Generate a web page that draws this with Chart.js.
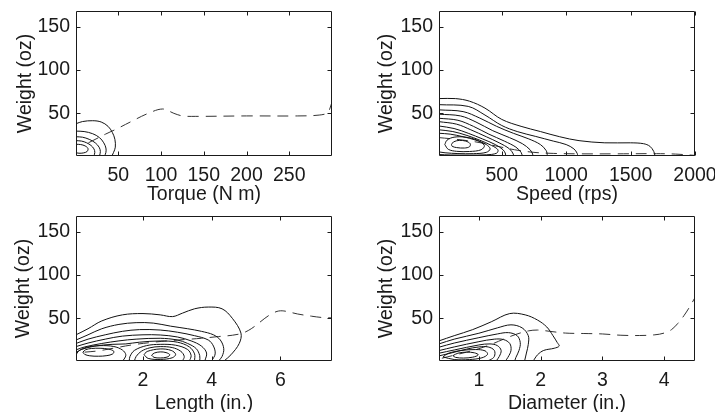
<!DOCTYPE html>
<html>
<head>
<meta charset="utf-8">
<script src="https://cdn.jsdelivr.net/npm/chart.js@4.4.1/dist/chart.umd.min.js"></script>
<style>
  html, body { margin: 0; padding: 0; background: #fff; }
  #fig { position: relative; width: 715px; height: 412px; overflow: hidden; }
  #fig canvas { position: absolute; }
</style>
</head>
<body>
<div id="fig">
  <canvas id="c1" width="357" height="206" style="left:0;top:0"></canvas>
  <canvas id="c2" width="358" height="206" style="left:357px;top:0"></canvas>
  <canvas id="c3" width="357" height="206" style="left:0;top:206px"></canvas>
  <canvas id="c4" width="358" height="206" style="left:357px;top:206px"></canvas>
</div>
<script>
// shared y axis
const weightTicks = [50, 100, 150];
const weightRange = [0.8, 168];

// torque panel
const torqueTicks = [50, 100, 150, 200, 250];
const torqueRange = [0.5, 300];
const torqueContours = [
  [[0.5,38],[8,40.5],[20,41.5],[30,40],[38,35],[43,28],[46,20],[46.5,11],[44.5,5],[42.5,0.8]],
  [[0.5,29.5],[10,29],[20,26.5],[28,22],[33,16],[35.5,10],[35.5,5],[34,0.8]],
  [[0.5,23],[8,22.5],[16,20],[23,16],[27.5,11],[29,6],[28,0.8]],
  [[0.5,18.5],[7,18],[13,16],[18,13],[21.5,9],[22.5,5],[21.5,0.8]],
  [[0.5,14.3],[6,14],[11,12.5],[14.5,9.5],[13.5,6],[9,4.3],[4,4],[0.5,4.5]]
];
const torqueMean = [[15,16],[25,21],[35,26],[48,32],[64,40],[85,50],[102,55],[115,50],[125,47],[140,46.5],[200,47],[260,47],[285,48],[295,51],[300,63]];

// speed panel
const speedTicks = [500, 1000, 1500, 2000];
const speedRange = [13, 2000];
const speedContours = [
  [[13,67],[140,67],[250,64],[370,56],[500,43],[650,35],[800,29],[950,23],[1100,18.5],[1300,16],[1500,16],[1600,15],[1650,12],[1680,6],[1690,0.8]],
  [[13,60],[240,58],[370,48],[500,36],[620,29],[760,23.5],[900,18],[1000,14],[1060,9],[1085,4],[1090,0.8]],
  [[13,54],[200,52],[330,44.5],[460,35],[590,27],[710,20.5],[800,14],[845,7],[855,0.8]],
  [[13,49],[180,47],[300,40],[430,30],[560,22],[660,15],[720,8],[740,3],[740,0.8]],
  [[13,44.3],[160,42],[280,35],[400,26],[520,18],[610,11],[650,5],[660,0.8]],
  [[13,40.4],[150,37.5],[260,31],[380,23],[480,16],[560,9],[590,3],[590,0.8]],
  [[13,35.4],[130,32.5],[240,27],[350,20.5],[450,14],[510,8],[530,3],[525,0.8]],
  [[13,31],[120,29],[230,24.5],[330,19],[420,13],[470,8],[460,4],[380,2.2],[250,1.8],[100,2],[13,2.5]],
  [[13,27],[100,26],[200,23],[300,19],[380,14],[410,9],[380,5],[280,3.5],[160,3.6],[60,4.5],[13,5.5]],
  [[58,14],[75,19],[130,22.5],[220,22.5],[310,19],[365,13],[340,8],[250,6],[150,6.2],[85,8.5],[58,14]],
  [[110,14],[125,17],[170,18.8],[220,18],[255,15],[250,11.5],[210,10],[150,10.5],[115,12],[110,14]]
];
const speedMean = [[13,22],[150,20],[300,17],[450,12.5],[600,8],[750,5],[900,3.8],[1100,3.3],[1400,3.3],[1700,3.5],[1850,3],[2000,1.5]];

// length panel
const lengthTicks = [2, 4, 6];
const lengthRange = [0.05, 7.5];
const lengthContours = [
  [[0.05,31],[0.4,38],[0.8,47],[1.4,54],[2,55.5],[2.5,54],[2.86,52],[3.15,56],[3.5,61],[3.9,63],[4.3,61],[4.6,50],[4.85,33],[4.8,21],[4.56,8],[4.36,0.9]],
  [[0.05,25],[0.4,31],[0.8,38],[1.3,43],[1.8,45],[2.3,44.5],[2.8,41],[3.3,38],[3.7,35],[4.05,31],[4.25,25],[4.35,15],[4.3,6],[4.2,0.9]],
  [[0.05,21],[0.4,26],[0.9,31],[1.4,35],[1.9,37],[2.5,36.5],[3,34],[3.5,30],[3.9,25],[4.05,18],[4.1,9],[4.0,0.9]],
  [[0.05,17.4],[0.4,21.5],[0.9,26],[1.4,29.5],[2,31],[2.5,30.8],[3,28.5],[3.4,24],[3.7,18],[3.85,10],[3.8,0.9]],
  [[0.05,13.6],[0.3,17],[0.8,21],[1.3,24],[1.8,26],[2.5,27],[3,25],[3.3,21],[3.55,15],[3.65,7],[3.65,0.9]],
  [[0.05,10.5],[0.2,14],[0.6,18],[1.1,20],[1.5,20.5],[1.9,22.5],[2.5,23.9],[3,22.5],[3.35,17],[3.5,9],[3.5,0.9]],
  [[0.05,7.5],[0.12,12],[0.35,16.5],[0.75,18.5],[1.15,17.5],[1.4,13.5],[1.5,8],[1.45,3],[1.4,0.9]],
  [[1.6,0.9],[1.62,6],[1.75,13],[2.1,18.5],[2.5,20],[2.95,19],[3.3,14],[3.4,7],[3.35,0.9]],
  [[0.25,11],[0.33,13.8],[0.5,15.2],[0.75,15.5],[1.0,14.5],[1.15,12],[1.12,9],[0.95,7],[0.7,6.3],[0.45,6.8],[0.3,8.5],[0.25,11]],
  [[1.75,0.9],[1.8,6],[1.95,12],[2.2,16],[2.5,17.4],[2.85,16.3],[3.1,12],[3.2,6],[3.15,0.9]],
  [[2.03,8],[2.12,11.8],[2.5,14.7],[2.82,13],[2.95,8.5],[2.85,4.5],[2.5,2.6],[2.15,3.8],[2.03,8]],
  [[2.25,7.5],[2.33,10],[2.5,11.3],[2.67,10.5],[2.78,8],[2.7,5.3],[2.5,4.3],[2.32,5],[2.25,7.5]]
];
const lengthMean = [[0.3,11],[0.7,12.5],[1.2,16],[1.7,19.5],[2.2,22],[2.7,24],[3.2,25.5],[3.7,27],[4.2,29],[4.6,30.5],[4.9,33],[5.15,38],[5.4,45.5],[5.65,53],[5.9,58],[6.1,58.5],[6.5,55],[6.9,52.5],[7.2,51],[7.5,50.5]];

// diameter panel
const diameterTicks = [1, 2, 3, 4];
const diameterRange = [0.354, 4.5];
const diameterContours = [
  [[0.354,24],[0.6,30],[0.9,37],[1.2,46],[1.5,55.5],[1.75,54],[1.95,48],[2.1,40],[2.2,30],[2.27,22],[2.3,18],[2.22,15.5],[2.05,13],[1.95,8],[1.9,3],[1.88,0.9]],
  [[0.354,20.5],[0.6,26],[1.0,32.8],[1.3,39],[1.52,42.5],[1.7,39],[1.8,30],[1.8,20],[1.77,10],[1.74,0.9]],
  [[0.354,16.7],[0.6,21.5],[1.0,27.7],[1.3,32],[1.48,33.5],[1.62,30],[1.67,22],[1.65,13],[1.6,5],[1.58,0.9]],
  [[0.354,12.8],[0.6,17],[1.0,23.1],[1.25,26],[1.4,25.5],[1.5,21],[1.52,13],[1.47,5],[1.43,0.9]],
  [[0.354,9.8],[0.6,13.5],[1.0,19.3],[1.18,20.5],[1.3,18.5],[1.36,13],[1.33,6],[1.28,0.9]],
  [[0.354,6.7],[0.55,10],[0.8,14.5],[1.0,17],[1.15,17],[1.25,13],[1.25,6],[1.18,2],[1.12,0.9]],
  [[0.42,5.5],[0.5,9.5],[0.7,12.8],[0.95,14],[1.1,12.5],[1.14,8.5],[1.05,4.5],[0.85,2.5],[0.6,2.5],[0.42,5.5]],
  [[0.58,7],[0.66,9.8],[0.8,11],[0.93,10.2],[0.99,7.8],[0.9,5.2],[0.75,4.2],[0.62,5],[0.58,7]]
];
const diameterMean = [[0.4,4],[0.6,7.5],[0.8,11],[1.0,15],[1.2,20],[1.4,26],[1.6,31.5],[1.8,35.5],[1.95,36.5],[2.15,35],[2.4,33],[2.7,32.5],[3.0,32],[3.3,30.5],[3.6,30.2],[3.85,31],[4.0,33],[4.12,37],[4.22,44],[4.32,53],[4.42,64],[4.5,74]];

const FONT = 'Liberation Sans, Arial, Helvetica, sans-serif';
const INK = '#1a1a1a';

// box around the plot area with matlab style inward ticks
const framePlugin = {
  id: 'frame',
  afterDatasetsDraw(chart) {
    const { ctx, chartArea: a, scales: { x, y } } = chart;
    const l = Math.round(a.left) + 0.5, r = Math.round(a.right) - 0.5;
    const t = Math.round(a.top) + 0.5, b = Math.round(a.bottom) - 0.5;
    ctx.save();
    ctx.strokeStyle = INK;
    ctx.lineWidth = 1;
    ctx.beginPath();
    ctx.rect(l, t, r - l, b - t);
    x.ticks.forEach(tk => {
      const px = Math.round(x.getPixelForValue(tk.value)) + 0.5;
      ctx.moveTo(px, b); ctx.lineTo(px, b - 4);
      ctx.moveTo(px, t); ctx.lineTo(px, t + 4);
    });
    y.ticks.forEach(tk => {
      const py = Math.round(y.getPixelForValue(tk.value)) + 0.5;
      ctx.moveTo(l, py); ctx.lineTo(l + 4, py);
      ctx.moveTo(r, py); ctx.lineTo(r - 4, py);
    });
    ctx.stroke();
    ctx.restore();
  }
};

function makePanel(id, p) {
  const datasets = p.contours.map(c => ({
    data: c.map(([x, y]) => ({ x, y })),
    showLine: true, pointRadius: 0, borderColor: '#111', borderWidth: 1, tension: 0.35
  }));
  datasets.push({
    data: p.mean.map(([x, y]) => ({ x, y })),
    showLine: true, pointRadius: 0, borderColor: '#333', borderWidth: 1, tension: 0.35,
    borderDash: [11, 7]
  });

  new Chart(document.getElementById(id), {
    type: 'scatter',
    data: { datasets },
    options: {
      responsive: false,
      animation: false,
      layout: { padding: { left: 0, right: p.padRight, top: p.padTop, bottom: 0 } },
      plugins: { legend: { display: false }, tooltip: { enabled: false } },
      scales: {
        x: {
          type: 'linear', min: p.range[0], max: p.range[1],
          afterBuildTicks: s => { s.ticks = p.ticks.map(v => ({ value: v })); },
          afterFit: s => { s.height = p.xAxisH; s.paddingLeft = 0; s.paddingRight = 0; },
          grid: { display: false, drawTicks: false },
          border: { display: false },
          ticks: { color: INK, font: { family: FONT, size: 19.5 }, padding: 8, maxRotation: 0, autoSkip: false, callback: v => String(v) },
          title: { display: true, text: p.label, color: INK, font: { family: FONT, size: 19.5, lineHeight: 1 }, padding: { top: 0, bottom: p.xTitlePad } }
        },
        y: {
          type: 'linear', min: weightRange[0], max: weightRange[1],
          afterBuildTicks: s => { s.ticks = weightTicks.map(v => ({ value: v })); },
          afterFit: s => { s.width = p.yAxisW; s.paddingTop = 0; s.paddingBottom = 0; },
          grid: { display: false, drawTicks: false },
          border: { display: false },
          ticks: { color: INK, font: { family: FONT, size: 19.5 }, padding: 6, autoSkip: false, callback: v => String(v) },
          title: { display: true, text: 'Weight (oz)', color: INK, font: { family: FONT, size: 19.5, lineHeight: 1 }, padding: { top: p.yTitlePad, bottom: 0 } }
        }
      }
    },
    plugins: [framePlugin]
  });
}

makePanel('c1', { label: 'Torque (N m)', range: torqueRange, ticks: torqueTicks, contours: torqueContours, mean: torqueMean,
  padRight: 25, padTop: 11, xAxisH: 50, yAxisW: 76, xTitlePad: 2, yTitlePad: 15.5 });
makePanel('c2', { label: 'Speed (rps)', range: speedRange, ticks: speedTicks, contours: speedContours, mean: speedMean,
  padRight: 20, padTop: 11, xAxisH: 50, yAxisW: 82, xTitlePad: 2, yTitlePad: 20 });
makePanel('c3', { label: 'Length (in.)', range: lengthRange, ticks: lengthTicks, contours: lengthContours, mean: lengthMean,
  padRight: 25, padTop: 10, xAxisH: 51, yAxisW: 76, xTitlePad: -1, yTitlePad: 14 });
makePanel('c4', { label: 'Diameter (in.)', range: diameterRange, ticks: diameterTicks, contours: diameterContours, mean: diameterMean,
  padRight: 20, padTop: 10, xAxisH: 51, yAxisW: 82, xTitlePad: -1, yTitlePad: 20 });
</script>
</body>
</html>
